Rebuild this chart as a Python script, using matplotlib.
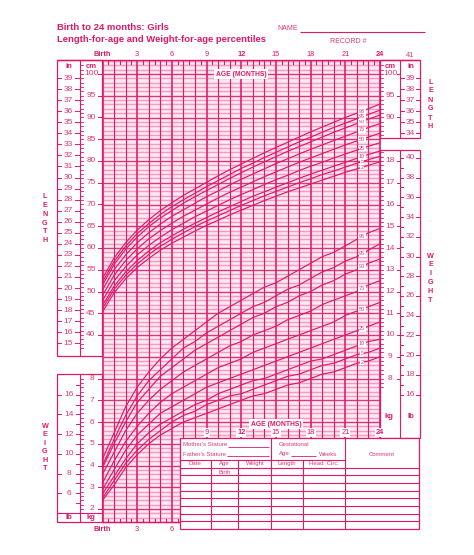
import numpy as np
import matplotlib
matplotlib.use('Agg')
import matplotlib.pyplot as plt
from matplotlib.transforms import Affine2D, blended_transform_factory as blend
from matplotlib.patches import Polygon, Rectangle

plt.rcParams['font.family'] = ['Liberation Sans', 'DejaVu Sans']

# ---------------- data (WHO girls, birth to 24 months) ----------------
months = list(range(25))
pct_names = ['2', '5', '10', '25', '50', '75', '90', '95', '98']

len_p2 = [45.3, 49.7, 52.9, 55.5, 57.6, 59.5, 61.1, 62.5, 63.9, 65.2, 66.4, 67.6, 68.7,
          69.8, 70.9, 71.9, 72.9, 73.8, 74.7, 75.6, 76.5, 77.4, 78.2, 79.0, 79.8]
len_p5 = [46.1, 50.5, 53.7, 56.3, 58.5, 60.4, 62.0, 63.5, 64.9, 66.2, 67.4, 68.6, 69.8,
          70.9, 72.0, 73.0, 74.0, 75.0, 75.9, 76.9, 77.7, 78.6, 79.5, 80.3, 81.1]
len_p10 = [46.8, 51.2, 54.5, 57.1, 59.3, 61.2, 62.8, 64.3, 65.7, 67.0, 68.3, 69.5, 70.7,
           71.9, 72.9, 74.0, 75.0, 76.0, 77.0, 77.9, 78.8, 79.7, 80.6, 81.5, 82.3]
len_p25 = [47.9, 52.4, 55.7, 58.4, 60.6, 62.5, 64.2, 65.7, 67.2, 68.5, 69.8, 71.1, 72.3,
           73.4, 74.6, 75.7, 76.7, 77.8, 78.8, 79.7, 80.7, 81.6, 82.5, 83.4, 84.2]
len_p50 = [49.1, 53.7, 57.1, 59.8, 62.1, 64.0, 65.7, 67.3, 68.7, 70.1, 71.5, 72.8, 74.0,
           75.2, 76.4, 77.5, 78.6, 79.7, 80.7, 81.7, 82.7, 83.7, 84.6, 85.5, 86.4]
len_p75 = [50.4, 55.0, 58.4, 61.2, 63.5, 65.5, 67.3, 68.8, 70.3, 71.8, 73.1, 74.5, 75.8,
           77.0, 78.2, 79.4, 80.5, 81.6, 82.7, 83.7, 84.7, 85.7, 86.7, 87.7, 88.6]
len_p90 = [51.5, 56.2, 59.7, 62.5, 64.9, 66.9, 68.6, 70.3, 71.8, 73.2, 74.6, 76.0, 77.3,
           78.6, 79.8, 81.0, 82.2, 83.3, 84.4, 85.5, 86.6, 87.6, 88.6, 89.6, 90.6]
len_p95 = [52.2, 56.9, 60.4, 63.3, 65.6, 67.7, 69.5, 71.1, 72.6, 74.1, 75.5, 76.9, 78.3,
           79.5, 80.8, 82.0, 83.2, 84.4, 85.5, 86.6, 87.7, 88.7, 89.7, 90.7, 91.7]
len_p98 = [53.0, 57.7, 61.2, 64.1, 66.5, 68.6, 70.4, 72.1, 73.6, 75.1, 76.6, 78.0, 79.3,
           80.6, 81.9, 83.1, 84.3, 85.5, 86.7, 87.8, 88.9, 90.0, 91.0, 92.0, 93.1]

wt_p2 = [2.4, 3.1, 3.9, 4.5, 5.0, 5.4, 5.7, 6.0, 6.2, 6.4, 6.6, 6.8, 7.0,
         7.2, 7.3, 7.5, 7.7, 7.8, 8.0, 8.2, 8.3, 8.5, 8.7, 8.8, 9.0]
wt_p5 = [2.5, 3.3, 4.1, 4.7, 5.2, 5.6, 6.0, 6.3, 6.5, 6.8, 7.0, 7.2, 7.3,
         7.5, 7.7, 7.9, 8.1, 8.2, 8.4, 8.6, 8.7, 8.9, 9.1, 9.2, 9.4]
wt_p10 = [2.7, 3.5, 4.3, 5.0, 5.5, 5.9, 6.2, 6.5, 6.8, 7.0, 7.3, 7.5, 7.7,
          7.9, 8.0, 8.2, 8.4, 8.6, 8.8, 8.9, 9.1, 9.3, 9.5, 9.7, 9.8]
wt_p25 = [2.9, 3.8, 4.7, 5.4, 5.9, 6.4, 6.7, 7.0, 7.3, 7.6, 7.8, 8.0, 8.2,
          8.4, 8.6, 8.8, 9.0, 9.2, 9.4, 9.6, 9.8, 10.0, 10.2, 10.4, 10.6]
wt_p50 = [3.2, 4.2, 5.1, 5.8, 6.4, 6.9, 7.3, 7.6, 7.9, 8.2, 8.5, 8.7, 8.9,
          9.2, 9.4, 9.6, 9.8, 10.0, 10.2, 10.4, 10.6, 10.9, 11.1, 11.3, 11.5]
wt_p75 = [3.6, 4.6, 5.6, 6.4, 7.0, 7.5, 7.9, 8.3, 8.6, 8.9, 9.2, 9.5, 9.7,
          10.0, 10.2, 10.4, 10.7, 10.9, 11.1, 11.4, 11.6, 11.8, 12.0, 12.3, 12.5]
wt_p90 = [3.9, 5.0, 6.0, 6.9, 7.5, 8.1, 8.5, 8.9, 9.3, 9.6, 9.9, 10.2, 10.5,
          10.8, 11.0, 11.3, 11.5, 11.8, 12.0, 12.3, 12.5, 12.8, 13.0, 13.3, 13.5]
wt_p95 = [4.0, 5.2, 6.3, 7.2, 7.9, 8.4, 8.9, 9.4, 9.7, 10.1, 10.4, 10.7, 11.0,
          11.3, 11.5, 11.8, 12.1, 12.3, 12.6, 12.9, 13.1, 13.4, 13.6, 13.9, 14.2]
wt_p98 = [4.3, 5.5, 6.7, 7.6, 8.3, 8.9, 9.4, 9.8, 10.2, 10.6, 11.0, 11.3, 11.6,
          11.9, 12.2, 12.4, 12.7, 13.0, 13.3, 13.6, 13.8, 14.1, 14.4, 14.7, 14.9]

len_series = [len_p2, len_p5, len_p10, len_p25, len_p50, len_p75, len_p90, len_p95, len_p98]
wt_series = [wt_p2, wt_p5, wt_p10, wt_p25, wt_p50, wt_p75, wt_p90, wt_p95, wt_p98]

top_month_ticks = [0, 3, 6, 9, 12, 15, 18, 21, 24]
bottom_left_ticks = [0, 3, 6]
bottom_right_ticks = [9, 12, 15, 18, 21, 24]
bold_months = [0, 12, 24]

# ---------------- style ----------------
C = '#E0186A'      # lines / headings
CT = '#E2367A'     # scale text
CL = '#F39CC0'     # minor grid
CM = '#D9387A'     # major grid
CF = '#FDE9F1'     # grid background

W, H = 474, 555
fig = plt.figure(figsize=(W / 100, H / 100), dpi=100)
ax = fig.add_axes([0, 0, 1, 1])

X0, X24 = 102.5, 380.0
MPX = (X24 - X0) / 24.0
Y18, KPX = 161.0, 21.75


def px2m(x):
    return (x - X0) / MPX


def py2kg(y):
    return 18 - (y - Y18) / KPX


ax.set_xlim(px2m(0), px2m(W))
ax.set_ylim(py2kg(H), py2kg(0))
ax.axis('off')

# length axis shares the chart: 5 cm per kg (80 cm level == 18 kg level)
T_len = Affine2D().scale(1, 0.2).translate(0, 2) + ax.transData
T_px = Affine2D().scale(1.0 / W, -1.0 / H).translate(0, 1) + fig.transFigure
B_len = blend(T_px, T_len)
B_kg = blend(T_px, ax.transData)

TOP, BOT = 60.0, 522.0
TAB_L, TAB_T, TAB_R, TAB_B = 180.0, 437.7, 419.0, 529.0


def pline(xs, ys, lw=0.8, color=C, z=3):
    ax.plot(xs, ys, color=color, lw=lw, transform=T_px, zorder=z,
            solid_capstyle='butt', clip_on=False)


# grid background
ax.add_patch(Polygon([(X0, TOP), (X24, TOP), (X24, TAB_T), (TAB_L, TAB_T),
                      (TAB_L, BOT), (X0, BOT)], closed=True, transform=T_px,
                     facecolor=CF, edgecolor='none', zorder=0.5))

# horizontal grid lines: every 0.2 kg (= 1 cm), darker every 1 kg (= 5 cm)
kg_tab = py2kg(TAB_T)
for n in range(14, 227, 2):
    k = n / 10.0
    xmax = 24 if k > kg_tab else px2m(TAB_L)
    major = (n % 10 == 0)
    ax.hlines(k, 0, xmax, colors=CM if major else CL,
              lw=1.0 if major else 1.05, zorder=1.2 if major else 1)

# vertical grid lines: every month
for m in range(25):
    ymin = py2kg(BOT) if m <= 6 else kg_tab
    ax.vlines(m, ymin, py2kg(TOP), colors=C,
              lw=1.15 if m % 3 == 0 else 0.8, zorder=1.5)
# half-month ticks
for m in np.arange(0.5, 24, 1.0):
    ax.plot([m, m], [py2kg(TOP), py2kg(TOP + 3.5)], color=C, lw=0.8, zorder=1.6)
    if m < 6.7:
        ax.plot([m, m], [py2kg(BOT), py2kg(BOT - 3.5)], color=C, lw=0.8, zorder=1.6)

# top border
pline([57, 420], [TOP, TOP], lw=1.0)
pline([X0, TAB_L], [BOT, BOT], lw=1.0)

# ---------------- percentile curves ----------------
for s in len_series:
    ax.plot(months, s, color=C, lw=0.85, transform=T_len, zorder=2)
for s in wt_series:
    ax.plot(months, s, color=C, lw=0.85, zorder=2)

lab_m = 22.45
for name, s in zip(pct_names, len_series):
    ax.text(lab_m, np.interp(lab_m, months, s), name, transform=T_len,
            fontsize=4.0, color=CT, ha='center', va='center', zorder=4,
            bbox=dict(boxstyle='square,pad=0.1', fc='white', ec='none'))
for name, s in zip(pct_names, wt_series):
    ax.text(lab_m, np.interp(lab_m, months, s), name,
            fontsize=4.0, color=CT, ha='center', va='center', zorder=4,
            bbox=dict(boxstyle='square,pad=0.1', fc='white', ec='none'))

# ---------------- left scale boxes ----------------
# length box
ax.add_patch(Rectangle((57, TOP), X0 - 57, 356 - TOP, transform=T_px,
                       fill=False, ec=C, lw=0.9, zorder=3))
pline([80, 80], [TOP, 356])
ax.text(68.5, 66, 'in', transform=T_px, fontsize=5.5, color=C, weight='bold',
        ha='center', va='center', zorder=4)
ax.text(91, 66, 'cm', transform=T_px, fontsize=5.5, color=C, weight='bold',
        ha='center', va='center', zorder=4)
for inch in range(15, 40):
    cm = inch * 2.54
    ax.plot([57, 61.5], [cm, cm], color=C, lw=0.7, transform=B_len, zorder=3)
    ax.plot([75.5, 80], [cm, cm], color=C, lw=0.7, transform=B_len, zorder=3)
    ax.text(68.5, cm, str(inch), transform=B_len, fontsize=6, color=CT,
            ha='center', va='center', zorder=4)
for cm in range(37, 103):
    ax.plot([80, 83.5], [cm, cm], color=C, lw=0.6, transform=B_len, zorder=3)
    if cm % 5 == 0:
        ax.plot([98, X0], [cm, cm], color=C, lw=0.7, transform=B_len, zorder=3)
        ax.text(91, cm, str(cm), transform=B_len, fontsize=6, color=CT,
                ha='center', va='center', zorder=4)

# weight box
ax.add_patch(Rectangle((57, 374), X0 - 57, BOT - 374, transform=T_px,
                       fill=False, ec=C, lw=0.9, zorder=3))
pline([80, 80], [374, BOT])
pline([57, X0], [512.5, 512.5])
ax.text(69, 517.5, 'lb', transform=T_px, fontsize=5.5, color=C, weight='bold',
        ha='center', va='center', zorder=4)
ax.text(91, 517.5, 'kg', transform=T_px, fontsize=5.5, color=C, weight='bold',
        ha='center', va='center', zorder=4)
for lb in range(5, 18):
    k = lb * 0.45359
    ax.plot([76, 80], [k, k], color=C, lw=0.7, transform=B_kg, zorder=3)
    if lb % 2 == 0:
        ax.plot([57, 61], [k, k], color=C, lw=0.7, transform=B_kg, zorder=3)
        ax.text(69, k, str(lb), transform=B_kg, fontsize=6, color=CT,
                ha='center', va='center', zorder=4)
for n in range(20, 84, 2):
    k = n / 10.0
    ax.plot([80, 83], [k, k], color=C, lw=0.6, transform=B_kg, zorder=3)
    if n % 10 == 0:
        ax.plot([98, X0], [k, k], color=C, lw=0.7, transform=B_kg, zorder=3)
        ax.text(92, k, str(n // 10), transform=B_kg, fontsize=6, color=CT,
                ha='center', va='center', zorder=4)

# ---------------- right scale boxes ----------------
ax.add_patch(Rectangle((X24, TOP), 420 - X24, 138 - TOP, transform=T_px,
                       fill=False, ec=C, lw=0.9, zorder=3))
pline([400, 400], [TOP, 138])
ax.text(390, 66, 'cm', transform=T_px, fontsize=5.5, color=C, weight='bold',
        ha='center', va='center', zorder=4)
ax.text(410.5, 66, 'in', transform=T_px, fontsize=5.5, color=C, weight='bold',
        ha='center', va='center', zorder=4)
for cm in range(86, 103):
    ax.plot([X24, 383.5], [cm, cm], color=C, lw=0.6, transform=B_len, zorder=3)
    if cm % 5 == 0:
        ax.plot([397, 400], [cm, cm], color=C, lw=0.7, transform=B_len, zorder=3)
        ax.text(390.5, cm, str(cm), transform=B_len, fontsize=6, color=CT,
                ha='center', va='center', zorder=4)
for inch in range(34, 40):
    cm = inch * 2.54
    ax.plot([400, 404], [cm, cm], color=C, lw=0.7, transform=B_len, zorder=3)
    ax.plot([416, 420], [cm, cm], color=C, lw=0.7, transform=B_len, zorder=3)
    ax.text(410.5, cm, str(inch), transform=B_len, fontsize=6, color=CT,
            ha='center', va='center', zorder=4)
ax.text(410.5, 41 * 2.54, '41', transform=B_len, fontsize=5.3, color=CT,
        ha='center', va='center', zorder=4)

ax.add_patch(Rectangle((X24, 150), 420 - X24, TAB_T - 150, transform=T_px,
                       fill=False, ec=C, lw=0.9, zorder=3))
pline([400, 400], [150, TAB_T])
ax.text(389, 416, 'kg', transform=T_px, fontsize=5.5, color=C, weight='bold',
        ha='center', va='center', zorder=4)
ax.text(410.5, 416, 'lb', transform=T_px, fontsize=5.5, color=C, weight='bold',
        ha='center', va='center', zorder=4)
for n in range(76, 186, 2):
    k = n / 10.0
    ax.plot([X24, 383.5], [k, k], color=C, lw=0.6, transform=B_kg, zorder=3)
    if n % 10 == 0:
        ax.plot([397, 400], [k, k], color=C, lw=0.7, transform=B_kg, zorder=3)
        ax.text(390, k, str(n // 10), transform=B_kg, fontsize=6, color=CT,
                ha='center', va='center', zorder=4)
for lb in range(16, 41):
    k = lb * 0.45359
    ax.plot([400, 403.5], [k, k], color=C, lw=0.7, transform=B_kg, zorder=3)
    if lb % 2 == 0:
        ax.plot([416.5, 420], [k, k], color=C, lw=0.7, transform=B_kg, zorder=3)
        ax.text(410.5, k, str(lb), transform=B_kg, fontsize=6, color=CT,
                ha='center', va='center', zorder=4)

# ---------------- vertical side titles ----------------
def vword(word, x, y0, step):
    for i, ch in enumerate(word):
        ax.text(x, y0 + i * step, ch, transform=T_px, fontsize=5.2, color=C,
                weight='bold', ha='center', va='center', zorder=4)


vword('LENGTH', 45, 197, 8.7)
vword('WEIGHT', 45, 426, 8.6)
vword('LENGTH', 430.5, 82, 9.0)
vword('WEIGHT', 430.5, 256, 8.8)

# ---------------- month labels ----------------
yl_top = py2kg(55)
for m in top_month_ticks:
    ax.text(m, yl_top, 'Birth' if m == 0 else str(m), fontsize=5.3, color=C,
            weight='bold' if m in bold_months else 'normal',
            ha='center', va='center', zorder=4)
yl_bl = py2kg(529.5)
for m in bottom_left_ticks:
    ax.text(m, yl_bl, 'Birth' if m == 0 else str(m), fontsize=5.3, color=C,
            weight='bold' if m in bold_months else 'normal',
            ha='center', va='center', zorder=4)
yl_br = py2kg(432.5)
for m in bottom_right_ticks:
    ax.text(m, yl_br, str(m), fontsize=5.3, color=C,
            weight='bold' if m in bold_months else 'normal',
            ha='center', va='center', zorder=4,
            bbox=dict(boxstyle='square,pad=0.12', fc='white', ec='none'))

ax.text(241, 74, 'AGE (MONTHS)', transform=T_px, fontsize=4.9, color=C,
        weight='bold', ha='center', va='center', zorder=4,
        bbox=dict(boxstyle='square,pad=0.2', fc='white', ec='none'))
ax.text(276, 424, 'AGE (MONTHS)', transform=T_px, fontsize=4.9, color=C,
        weight='bold', ha='center', va='center', zorder=4,
        bbox=dict(boxstyle='square,pad=0.2', fc='white', ec='none'))

# ---------------- header ----------------
ax.text(57, 27, 'Birth to 24 months: Girls', transform=T_px, fontsize=6.8,
        color=C, weight='bold', ha='left', va='center', zorder=4)
ax.text(57, 40, 'Length-for-age and Weight-for-age percentiles', transform=T_px,
        fontsize=6.8, color=C, weight='bold', ha='left', va='center', zorder=4)
ax.text(277, 29, 'NAME', transform=T_px, fontsize=5, color=CT,
        ha='left', va='center', zorder=4)
pline([300, 425], [32, 32], lw=0.8)
ax.text(330, 41.5, 'RECORD #', transform=T_px, fontsize=5, color=CT,
        ha='left', va='center', zorder=4)

# ---------------- record table ----------------
ax.add_patch(Rectangle((TAB_L, TAB_T), TAB_R - TAB_L, TAB_B - TAB_T,
                       transform=T_px, fc='white', ec=C, lw=0.9, zorder=3))
pline([271, 271], [TAB_T, TAB_B])
pline([345, 345], [TAB_T, TAB_B])
for xv in [210.7, 238.3, 302.7]:
    pline([xv, xv], [460, TAB_B])
pline([TAB_L, 345], [460, 460])
row_lines = [467.7, 475.4, 483.1, 490.8, 498.4, 506.1, 513.8, 521.4]
for yv in row_lines:
    pline([TAB_L, TAB_R], [yv, yv])

fs_t = 4.3
ax.text(183, 445, "Mother's Stature", transform=T_px, fontsize=fs_t, color=CT,
        ha='left', va='center', zorder=4)
pline([228, 269], [447, 447], lw=0.6)
ax.text(183, 454, "Father's Stature", transform=T_px, fontsize=fs_t, color=CT,
        ha='left', va='center', zorder=4)
pline([227, 269], [456, 456], lw=0.6)
ax.text(279, 445, 'Gestational', transform=T_px, fontsize=fs_t, color=CT,
        ha='left', va='center', zorder=4)
ax.text(279, 454, 'Age:', transform=T_px, fontsize=fs_t, color=CT,
        ha='left', va='center', zorder=4)
pline([291, 316], [456, 456], lw=0.6)
ax.text(319, 454, 'Weeks', transform=T_px, fontsize=fs_t, color=CT,
        ha='left', va='center', zorder=4)
ax.text(382, 454, 'Comment', transform=T_px, fontsize=fs_t, color=CT,
        ha='center', va='center', zorder=4)
for txt, xc in [('Date', 195), ('Age', 224.5), ('Weight', 255),
                ('Length', 287), ('Head  Circ.', 324)]:
    ax.text(xc, 463.5, txt, transform=T_px, fontsize=fs_t, color=CT,
            ha='center', va='center', zorder=4)
ax.text(224.5, 472, 'Birth', transform=T_px, fontsize=fs_t, color=CT,
        ha='center', va='center', zorder=4)

fig.savefig('out.png', dpi=100, facecolor='white')
